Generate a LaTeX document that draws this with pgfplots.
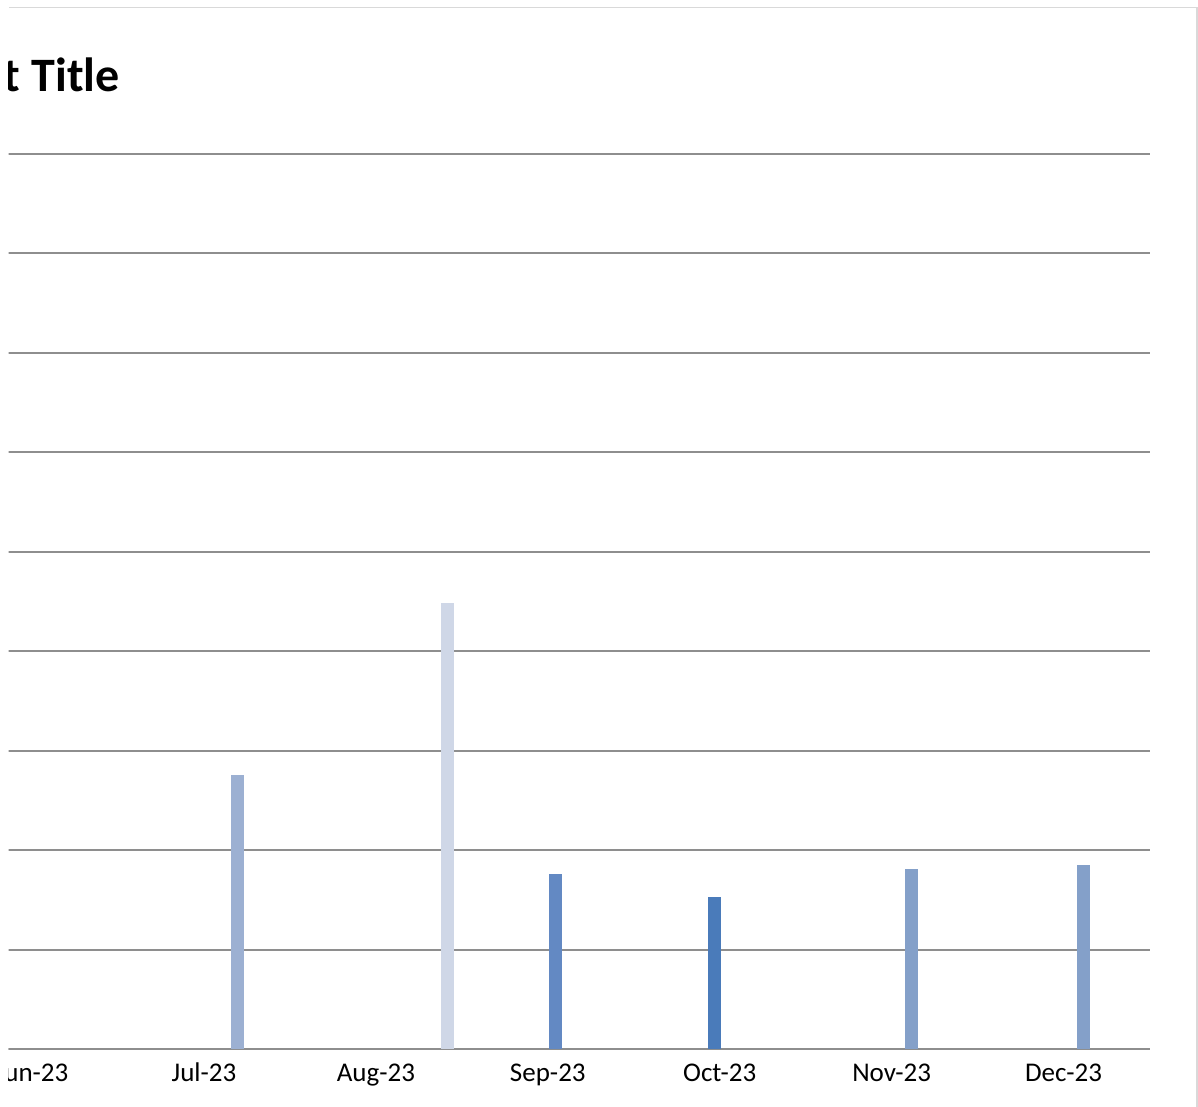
\documentclass[border=0pt]{standalone}
\usepackage{fontspec}
\setmainfont{Carlito}
\usepackage{pgfplots}
\pgfplotsset{compat=1.18}
\definecolor{cjul}{HTML}{9CB0D2}
\definecolor{caug}{HTML}{CFD7E7}
\definecolor{csep}{HTML}{6389C3}
\definecolor{coct}{HTML}{4A7BBA}
\definecolor{cnov}{HTML}{84A0C9}
\definecolor{cdec}{HTML}{84A0C9}
\definecolor{gridc}{HTML}{8E8E8E}
\definecolor{borderc}{HTML}{D9D9D9}
\begin{document}
\begin{tikzpicture}
\useasboundingbox (0pt,0pt) rectangle (599pt,553.5pt);
\clip (4.25pt,0pt) rectangle (599pt,553.5pt);
\draw[color=borderc, line width=0.8pt] (4.5pt,549.75pt) -- (598.35pt,549.75pt) -- (598.35pt,-1pt);
\node[anchor=base east, inner sep=0pt, font=\bfseries\fontsize{24}{28}\selectfont] at (60pt,507.65pt) {Chart Title};
\begin{axis}[
  at={(4pt,29pt)}, anchor=south west,
  scale only axis, width=571pt, height=447.5pt,
  xmin=-0.140, xmax=6.503, ymin=0, ymax=9,
  xtick={0,1,2,3,4,5,6},
  xticklabels={Jun-23,Jul-23,Aug-23,Sep-23,Oct-23,Nov-23,Dec-23},
  ytick={0,1,2,3,4,5,6,7,8,9},
  yticklabel={},
  major tick length=0pt,
  axis x line=bottom, axis y line=left,
  x axis line style={draw=gridc, line width=1pt, -},
  y axis line style={draw=none},
  ymajorgrids,
  major grid style={draw=gridc, line width=1pt},
  xticklabel style={anchor=base, yshift=-16.35pt, font=\fontsize{13.5}{16}\selectfont, text=black},
  clip=false,
  mybar/.style={ybar, bar shift=0pt, bar width=0.074, draw=none},
]
\addplot[mybar, fill=cjul] coordinates {(1.194,2.76)};
\addplot[mybar, fill=caug] coordinates {(2.417,4.48)};
\addplot[mybar, fill=csep] coordinates {(3.045,1.76)};
\addplot[mybar, fill=coct] coordinates {(3.970,1.53)};
\addplot[mybar, fill=cnov] coordinates {(5.116,1.81)};
\addplot[mybar, fill=cdec] coordinates {(6.116,1.85)};
\end{axis}
\end{tikzpicture}
\end{document}
